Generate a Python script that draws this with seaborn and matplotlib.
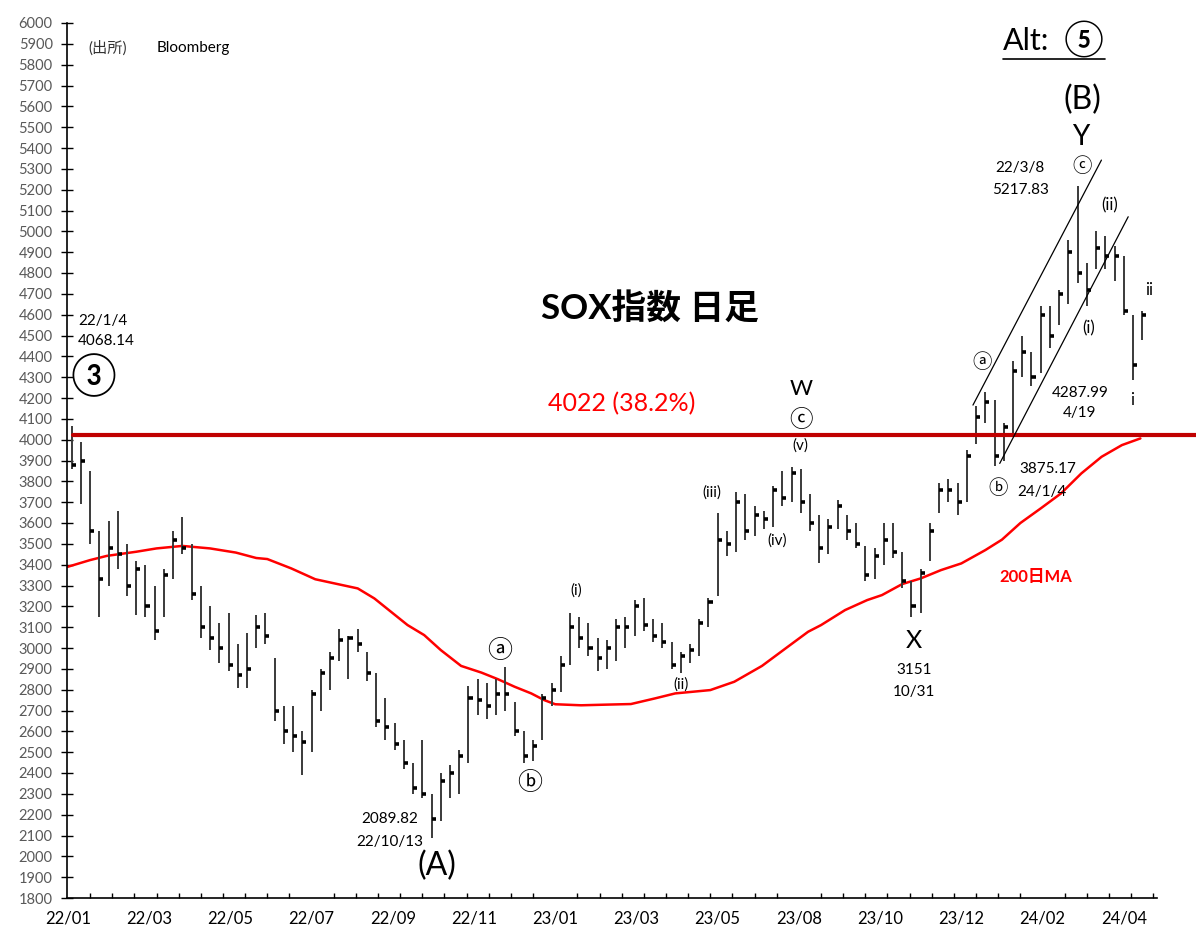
import matplotlib
matplotlib.use("Agg")
import matplotlib.pyplot as plt
import seaborn as sns
import numpy as np
import pandas as pd

# ---------------- data (weekly bars) ----------------
# trading-day index: 0 = 2022-01-03 ; one bar per 5 trading days
wk_high = [4068, 3990, 3850, 3560, 3610, 3660, 3500, 3420, 3400, 3300,
           3380, 3560, 3630, 3500, 3300, 3200, 3120, 3170, 3020, 3070,
           3160, 3170, 2950, 2720, 2720, 2600, 2800, 2900, 2980, 3090,
           3060, 3090, 2980, 2880, 2760, 2640, 2560, 2450, 2560, 2300,
           2400, 2440, 2510, 2820, 2850, 2830, 2850, 2910, 2740, 2600,
           2560, 2780, 2830, 2960, 3170, 3150, 3120, 3050, 3040, 3140,
           3150, 3230, 3240, 3140, 3120, 3030, 2980, 3020, 3140, 3240,
           3650, 3560, 3750, 3740, 3680, 3660, 3780, 3850, 3870, 3860,
           3740, 3640, 3620, 3710, 3640, 3600, 3490, 3480, 3600, 3600,
           3460, 3320, 3380, 3600, 3790, 3810, 3790, 3950, 4160, 4230,
           4190, 4080, 4380, 4500, 4420, 4640, 4640, 4720, 4960, 5218,
           4850, 5000, 4980, 4930, 4880, 4600, 4620]
wk_low = [3860, 3690, 3500, 3150, 3300, 3380, 3250, 3160, 3150, 3040,
          3150, 3330, 3450, 3230, 3050, 2990, 2930, 2890, 2810, 2810,
          3000, 3020, 2650, 2540, 2500, 2390, 2500, 2700, 2800, 2940,
          2850, 2980, 2840, 2620, 2560, 2510, 2420, 2300, 2280, 2090,
          2170, 2280, 2300, 2450, 2680, 2660, 2680, 2700, 2580, 2450,
          2460, 2560, 2720, 2790, 2920, 3000, 2960, 2890, 2900, 2940,
          3000, 3060, 3080, 3030, 3000, 2900, 2880, 2930, 2960, 3100,
          3250, 3440, 3460, 3520, 3540, 3570, 3580, 3680, 3700, 3650,
          3560, 3410, 3450, 3570, 3520, 3480, 3320, 3330, 3400, 3430,
          3290, 3151, 3170, 3420, 3650, 3700, 3640, 3700, 3980, 4080,
          3875, 3900, 4030, 4300, 4260, 4320, 4440, 4550, 4650, 4750,
          4640, 4820, 4820, 4760, 4600, 4288, 4480]
wk_close = [3880, 3900, 3560, 3330, 3480, 3450, 3300, 3380, 3200, 3080,
            3350, 3520, 3480, 3260, 3100, 3050, 3000, 2920, 2870, 2900,
            3100, 3060, 2700, 2600, 2580, 2550, 2780, 2880, 2950, 3040,
            3050, 3020, 2880, 2650, 2620, 2540, 2450, 2330, 2300, 2180,
            2360, 2400, 2480, 2760, 2750, 2720, 2780, 2780, 2600, 2480,
            2530, 2760, 2800, 2920, 3100, 3050, 3000, 2950, 3000, 3100,
            3100, 3200, 3110, 3060, 3030, 2920, 2960, 2990, 3120, 3220,
            3520, 3500, 3700, 3560, 3640, 3620, 3760, 3720, 3840, 3700,
            3600, 3480, 3580, 3680, 3560, 3500, 3350, 3440, 3520, 3460,
            3320, 3200, 3360, 3560, 3760, 3760, 3700, 3920, 4110, 4180,
            3920, 4060, 4330, 4420, 4300, 4600, 4500, 4700, 4900, 4800,
            4720, 4920, 4880, 4880, 4620, 4360, 4600]

# 200-day moving average, read at sample trading days
ma_day = [0, 12, 21, 37, 48, 62, 77, 91, 102, 108, 121, 134, 146, 157, 166,
          175, 184, 193, 202, 213, 224, 233, 242, 251, 258, 264, 278, 291,
          305, 318, 329, 348, 361, 376, 390, 401, 408, 421, 433, 441, 452,
          462, 473, 484, 497, 506, 516, 527, 538, 549, 560, 571, 581]
ma_val = [3390, 3422, 3442, 3462, 3478, 3490, 3478, 3458, 3432, 3427, 3382,
          3330, 3307, 3286, 3238, 3174, 3110, 3062, 2990, 2914, 2882, 2850,
          2814, 2782, 2750, 2730, 2725, 2728, 2731, 2758, 2782, 2798, 2838,
          2914, 3006, 3078, 3110, 3182, 3230, 3254, 3307, 3334, 3374, 3406,
          3470, 3520, 3600, 3670, 3742, 3838, 3918, 3974, 4006]

fib_level = 4022
chan_upper_day = [490.3, 559.9]
chan_upper_val = [4166, 5342]
chan_lower_day = [504.8, 574.4]
chan_lower_val = [3886, 5070]

tick_labels = ["22/01", "22/03", "22/05", "22/07", "22/09", "22/11", "23/01",
               "23/03", "23/05", "23/08", "23/10", "23/12", "24/02", "24/04"]
label_every = 44
minor_every = 12

# ---------------- figure ----------------
sns.set_theme(style="white")
plt.rcParams["font.family"] = ["Lato", "Noto Sans CJK JP", "DejaVu Sans"]

W, H = 1196, 931
fig = plt.figure(figsize=(W / 100, H / 100), dpi=100)
ax = fig.add_axes([67 / W, 1 - 898 / H, (1157 - 67) / W, (898 - 23) / H])

df = pd.DataFrame({"high": wk_high, "low": wk_low, "close": wk_close})
df["day"] = np.arange(len(df)) * 5 + 2

ax.vlines(df["day"], df["low"], df["high"], color="#3a3a3a", lw=1.4, zorder=3)
ax.hlines(df["close"], df["day"], df["day"] + 2.2, color="black", lw=2.6, zorder=4)

ma_df = pd.DataFrame({"day": ma_day, "ma": ma_val})
sns.lineplot(data=ma_df, x="day", y="ma", ax=ax, color="#FF0000", lw=1.8,
             estimator=None, sort=True, zorder=2)

ax.plot([2.6, 612], [fib_level, fib_level], color="#C00000", lw=3,
        clip_on=False, zorder=5)
ax.plot(chan_upper_day, chan_upper_val, color="black", lw=0.9, zorder=5)
ax.plot(chan_lower_day, chan_lower_val, color="black", lw=0.9, zorder=5)

ax.set_xlim(-0.5, 590)
ax.set_ylim(1800, 6000)
ax.set_yticks(np.arange(1800, 6001, 100))
ax.set_yticklabels([str(v) for v in range(1800, 6001, 100)])
ax.set_xticks(np.arange(len(tick_labels)) * label_every)
ax.set_xticklabels(tick_labels)
ax.set_xticks(np.arange(0, 591, minor_every), minor=True)
ax.set_xlabel("")
ax.set_ylabel("")

for s in ["top", "right"]:
    ax.spines[s].set_visible(False)
for s in ["left", "bottom"]:
    ax.spines[s].set_color("black")
    ax.spines[s].set_linewidth(1.2)

ax.tick_params(axis="y", direction="inout", length=8.6, width=1, color="black",
               labelsize=10.5, labelcolor="#595959", pad=6, left=True)
ax.tick_params(axis="x", which="major", length=0, labelsize=12,
               labelcolor="black", pad=9, bottom=True)
ax.tick_params(axis="x", which="minor", direction="in", length=3.6, width=1,
               color="black", bottom=True)
ax.grid(False)


def t(px, py, s, size, color="black", ha="center", **kw):
    fig.text(px / W, 1 - py / H, s, fontsize=size, color=color, ha=ha,
             va="center", **kw)


t(88, 48, "(出所)", 11, color="#333333", ha="left")
t(157, 48, "Bloomberg", 11, ha="left")
t(78, 321, "22/1/4", 11, ha="left")
t(78, 341, "4068.14", 11, ha="left")
t(93, 375, "③", 30)
t(650, 308, "SOX指数 日足", 25, fontweight="bold")
t(622, 404, "4022 (38.2%)", 18, color="#FF0000")
t(801, 389, "W", 16)
t(801, 420, "ⓒ", 17)
t(800, 446, "(v)", 11)
t(712, 493, "(iii)", 11)
t(777, 541, "(iv)", 11)
t(576, 591, "(i)", 11)
t(681, 685, "(ii)", 11)
t(500, 651, "ⓐ", 18)
t(530, 783, "ⓑ", 18)
t(390, 819, "2089.82", 11)
t(390, 842, "22/10/13", 11)
t(437, 866, "(A)", 23)
t(914, 640, "X", 18)
t(914, 670, "3151", 11)
t(914, 692, "10/31", 11)
t(1036, 577, "200日MA", 12, color="#FF0000", fontweight="bold")
t(982, 362, "ⓐ", 14)
t(998, 488, "ⓑ", 14)
t(1048, 469, "3875.17", 11)
t(1042, 492, "24/1/4", 11)
t(1080, 393, "4287.99", 11)
t(1080, 413, "4/19", 11)
t(1132, 400, "i", 12)
t(1149, 290, "ii", 12)
t(1089, 328, "(i)", 12)
t(1110, 205, "(ii)", 12)
t(1020, 168, "22/3/8", 11)
t(1021, 190, "5217.83", 11)
t(1082, 166, "ⓒ", 14)
t(1081, 137, "Y", 20)
t(1082, 100, "(B)", 23)
t(1003, 41, "Alt:", 22, ha="left")
t(1084, 39, "⑤", 26)
fig.add_artist(plt.Line2D([1003 / W, 1105 / W], [1 - 59 / H, 1 - 59 / H],
                          color="black", lw=1.2))

fig.savefig("out.png", dpi=100)
